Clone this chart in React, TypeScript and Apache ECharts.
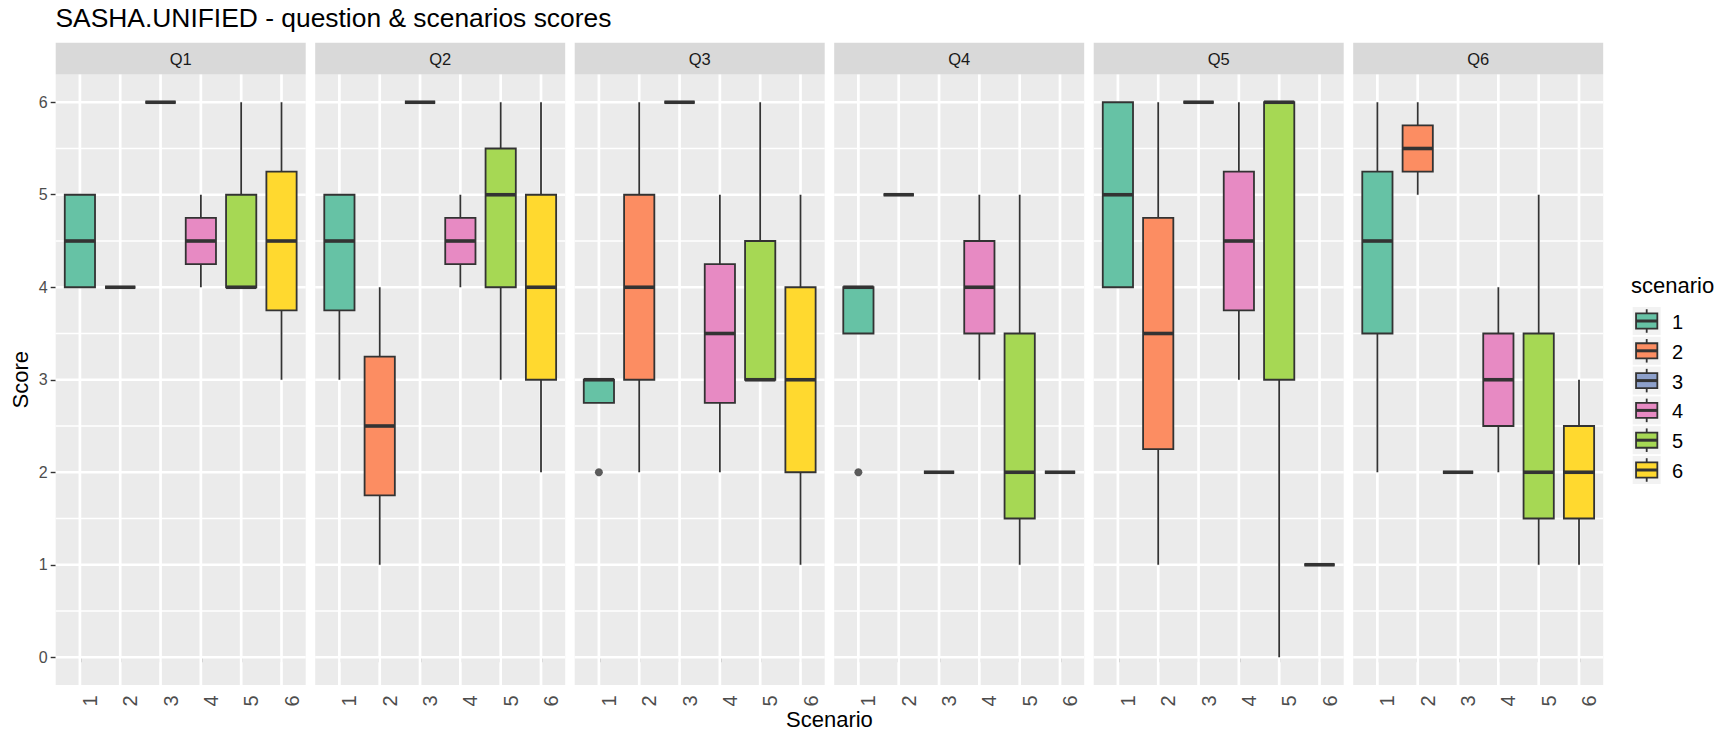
import React, { useEffect, useRef } from 'react';
import * as echarts from 'echarts';

const FONT = '"Liberation Sans", Arial, Helvetica, sans-serif';

const questions = ['Q1', 'Q2', 'Q3', 'Q4', 'Q5', 'Q6'];
const scenarios = ['1', '2', '3', '4', '5', '6'];
const palette = ['#66C2A5', '#FC8D62', '#8DA0CB', '#E78AC3', '#A6D854', '#FFD92F'];

// per scenario 1..6: [min, q1, median, q3, max]
const statsQ1 = [[4, 4, 4.5, 5, 5], [4, 4, 4, 4, 4], [6, 6, 6, 6, 6], [4, 4.25, 4.5, 4.75, 5], [4, 4, 4, 5, 6], [3, 3.75, 4.5, 5.25, 6]];
const statsQ2 = [[3, 3.75, 4.5, 5, 5], [1, 1.75, 2.5, 3.25, 4], [6, 6, 6, 6, 6], [4, 4.25, 4.5, 4.75, 5], [3, 4, 5, 5.5, 6], [2, 3, 4, 5, 6]];
const statsQ3 = [[2.75, 2.75, 3, 3, 3], [2, 3, 4, 5, 6], [6, 6, 6, 6, 6], [2, 2.75, 3.5, 4.25, 5], [3, 3, 3, 4.5, 6], [1, 2, 3, 4, 5]];
const statsQ4 = [[3.5, 3.5, 4, 4, 4], [5, 5, 5, 5, 5], [2, 2, 2, 2, 2], [3, 3.5, 4, 4.5, 5], [1, 1.5, 2, 3.5, 5], [2, 2, 2, 2, 2]];
const statsQ5 = [[4, 4, 5, 6, 6], [1, 2.25, 3.5, 4.75, 6], [6, 6, 6, 6, 6], [3, 3.75, 4.5, 5.25, 6], [0, 3, 6, 6, 6], [1, 1, 1, 1, 1]];
const statsQ6 = [[2, 3.5, 4.5, 5.25, 6], [5, 5.25, 5.5, 5.75, 6], [2, 2, 2, 2, 2], [2, 2.5, 3, 3.5, 4], [1, 1.5, 2, 3.5, 5], [1, 1.5, 2, 2.5, 3]];
const statsByQuestion = [statsQ1, statsQ2, statsQ3, statsQ4, statsQ5, statsQ6];

// outliers: [question, scenario, value]
const outliers: [string, number, number][] = [['Q3', 1, 2], ['Q4', 1, 2]];

const yTicks = [0, 1, 2, 3, 4, 5, 6];
const yMinorTicks = [0.5, 1.5, 2.5, 3.5, 4.5, 5.5];
const scenarioNums = scenarios.map(Number);

const X_MIN = 0.4, X_MAX = 6.6, Y_MIN = -0.3, Y_MAX = 6.3;

// layout
const PANEL_LEFT0 = 55.7;
const PANEL_PITCH = 259.5;
const PANEL_W = 250;
const PANEL_TOP = 74.5;
const PANEL_H = 610.5;
const STRIP_TOP = 42.7;
const STRIP_H = PANEL_TOP - STRIP_TOP;

const INK = '#333333';

function buildOption() {
  const grids = questions.map((q, i) => ({
    left: PANEL_LEFT0 + i * PANEL_PITCH,
    top: PANEL_TOP,
    width: PANEL_W,
    height: PANEL_H,
    show: true,
    backgroundColor: '#EBEBEB',
    borderWidth: 0,
    borderColor: 'transparent',
    containLabel: false,
    outerBoundsMode: 'none',
  }));

  const xAxes = questions.map((q, i) => ({
    type: 'value',
    gridIndex: i,
    min: X_MIN,
    max: X_MAX,
    axisLine: { show: false },
    splitLine: { show: false },
    axisTick: { show: true, customValues: scenarioNums, length: 5, lineStyle: { color: INK, width: 1.4 } },
    axisLabel: {
      customValues: scenarioNums,
      rotate: 90,
      align: 'center',
      verticalAlign: 'top',
      margin: 16,
      fontSize: 20,
      color: '#4D4D4D',
      fontFamily: FONT,
    },
  }));

  const yAxes = questions.map((q, i) => ({
    type: 'value',
    gridIndex: i,
    min: Y_MIN,
    max: Y_MAX,
    axisLine: { show: false },
    splitLine: { show: false },
    axisTick: i === 0 ? { show: true, customValues: yTicks, length: 5, lineStyle: { color: INK, width: 1.4 } } : { show: false },
    axisLabel: i === 0
      ? { show: true, customValues: yTicks, margin: 8, fontSize: 16, color: '#4D4D4D', fontFamily: FONT }
      : { show: false },
  }));

  const series: any[] = [];

  questions.forEach((q, i) => {
    // panel grid lines
    series.push({
      type: 'custom',
      xAxisIndex: i,
      yAxisIndex: i,
      silent: true,
      z: 1,
      data: [[1, 0]],
      renderItem: (params: any, api: any) => {
        const children: any[] = [];
        yMinorTicks.forEach((v) => {
          const a = api.coord([X_MIN, v]);
          const b = api.coord([X_MAX, v]);
          children.push({ type: 'line', shape: { x1: a[0], y1: a[1], x2: b[0], y2: b[1] }, style: { stroke: '#FFFFFF', lineWidth: 1.4 } });
        });
        yTicks.forEach((v) => {
          const a = api.coord([X_MIN, v]);
          const b = api.coord([X_MAX, v]);
          children.push({ type: 'line', shape: { x1: a[0], y1: a[1], x2: b[0], y2: b[1] }, style: { stroke: '#FFFFFF', lineWidth: 2.7 } });
        });
        scenarioNums.forEach((v) => {
          const a = api.coord([v, Y_MIN]);
          const b = api.coord([v, Y_MAX]);
          children.push({ type: 'line', shape: { x1: a[0], y1: a[1], x2: b[0], y2: b[1] }, style: { stroke: '#FFFFFF', lineWidth: 2.7 } });
        });
        return { type: 'group', children };
      },
    });

    // boxplots
    const rows = statsByQuestion[i].map((s, k) => [scenarioNums[k], s[0], s[1], s[2], s[3], s[4], k]);
    series.push({
      type: 'custom',
      name: q,
      xAxisIndex: i,
      yAxisIndex: i,
      z: 2,
      encode: { x: 0, y: [1, 2, 3, 4, 5] },
      data: rows,
      renderItem: (params: any, api: any) => {
        const x = api.value(0);
        const lo = api.value(1);
        const q1 = api.value(2);
        const med = api.value(3);
        const q3 = api.value(4);
        const hi = api.value(5);
        const k = api.value(6);
        const tl = api.coord([x - 0.375, q3]);
        const br = api.coord([x + 0.375, q1]);
        const pm = api.coord([x, med]);
        const ph = api.coord([x, hi]);
        const pl = api.coord([x, lo]);
        const cx = pm[0];
        const children: any[] = [];
        if (hi > q3) {
          children.push({ type: 'line', shape: { x1: cx, y1: ph[1], x2: cx, y2: tl[1] }, style: { stroke: INK, lineWidth: 1.8 } });
        }
        if (lo < q1) {
          children.push({ type: 'line', shape: { x1: cx, y1: br[1], x2: cx, y2: pl[1] }, style: { stroke: INK, lineWidth: 1.8 } });
        }
        children.push({
          type: 'rect',
          shape: { x: tl[0], y: tl[1], width: br[0] - tl[0], height: br[1] - tl[1] },
          style: { fill: palette[k], stroke: INK, lineWidth: 1.8 },
        });
        children.push({ type: 'line', shape: { x1: tl[0], y1: pm[1], x2: br[0], y2: pm[1] }, style: { stroke: INK, lineWidth: 3.6 } });
        return { type: 'group', children };
      },
    });

    const pts = outliers.filter((o) => o[0] === q).map((o) => [o[1], o[2]]);
    if (pts.length) {
      series.push({
        type: 'scatter',
        xAxisIndex: i,
        yAxisIndex: i,
        z: 3,
        symbol: 'circle',
        symbolSize: 8,
        itemStyle: { color: INK },
        data: pts,
      });
    }
  });

  const graphics: any[] = [];
  questions.forEach((q, i) => {
    const left = PANEL_LEFT0 + i * PANEL_PITCH;
    graphics.push({
      type: 'rect',
      shape: { x: left, y: STRIP_TOP, width: PANEL_W, height: STRIP_H },
      style: { fill: '#D9D9D9' },
      silent: true,
    });
    graphics.push({
      type: 'text',
      x: left + PANEL_W / 2,
      y: STRIP_TOP + STRIP_H / 2,
      style: { text: q, fontSize: 16.5, fontFamily: FONT, fill: '#1A1A1A', align: 'center', verticalAlign: 'middle' },
    });
  });

  // axis titles
  graphics.push({
    type: 'text',
    x: PANEL_LEFT0 + (5 * PANEL_PITCH + PANEL_W) / 2,
    y: 719.5,
    style: { text: 'Scenario', fontSize: 22, fontFamily: FONT, fill: '#000000', align: 'center', verticalAlign: 'middle' },
  });
  graphics.push({
    type: 'text',
    x: 20,
    y: PANEL_TOP + PANEL_H / 2,
    rotation: Math.PI / 2,
    style: { text: 'Score', fontSize: 22, fontFamily: FONT, fill: '#000000', align: 'center', verticalAlign: 'middle' },
  });

  // legend
  const LX = 1632.7;
  const KEY = 28;
  graphics.push({
    type: 'text',
    x: 1631,
    y: 285,
    style: { text: 'scenario', fontSize: 22, fontFamily: FONT, fill: '#000000', align: 'left', verticalAlign: 'middle' },
  });
  scenarios.forEach((s, k) => {
    const cy = 321 + 29.8 * k;
    const top = cy - KEY / 2;
    const cx = LX + KEY / 2;
    graphics.push({ type: 'rect', shape: { x: LX, y: top, width: KEY, height: KEY }, style: { fill: '#F2F2F2' }, silent: true });
    graphics.push({ type: 'line', shape: { x1: cx, y1: top + KEY * 0.08, x2: cx, y2: top + KEY * 0.92 }, style: { stroke: INK, lineWidth: 1.8 } });
    graphics.push({
      type: 'rect',
      shape: { x: LX + KEY * 0.12, y: top + KEY * 0.23, width: KEY * 0.76, height: KEY * 0.54 },
      style: { fill: palette[k], stroke: INK, lineWidth: 1.8 },
    });
    graphics.push({ type: 'line', shape: { x1: LX + KEY * 0.12, y1: cy, x2: LX + KEY * 0.88, y2: cy }, style: { stroke: INK, lineWidth: 3 } });
    graphics.push({
      type: 'text',
      x: 1672,
      y: cy + 1,
      style: { text: s, fontSize: 20, fontFamily: FONT, fill: '#000000', align: 'left', verticalAlign: 'middle' },
    });
  });

  return {
    animation: false,
    backgroundColor: '#FFFFFF',
    textStyle: { fontFamily: FONT },
    title: {
      text: 'SASHA.UNIFIED - question & scenarios scores',
      left: 55.5,
      top: 5,
      padding: 0,
      textStyle: { fontSize: 26.4, fontWeight: 'normal', color: '#000000', fontFamily: FONT },
    },
    grid: grids,
    xAxis: xAxes,
    yAxis: yAxes,
    series,
    graphic: graphics,
  };
}

export default function App() {
  const ref = useRef<HTMLDivElement | null>(null);
  useEffect(() => {
    if (!ref.current) return;
    const chart = echarts.init(ref.current, null, { renderer: 'svg' });
    chart.setOption(buildOption() as any);
    return () => {
      chart.dispose();
    };
  }, []);
  return (
    <div
      ref={ref}
      style={{ position: 'fixed', left: 0, top: 0, width: 1725, height: 734, background: '#FFFFFF' }}
    />
  );
}
